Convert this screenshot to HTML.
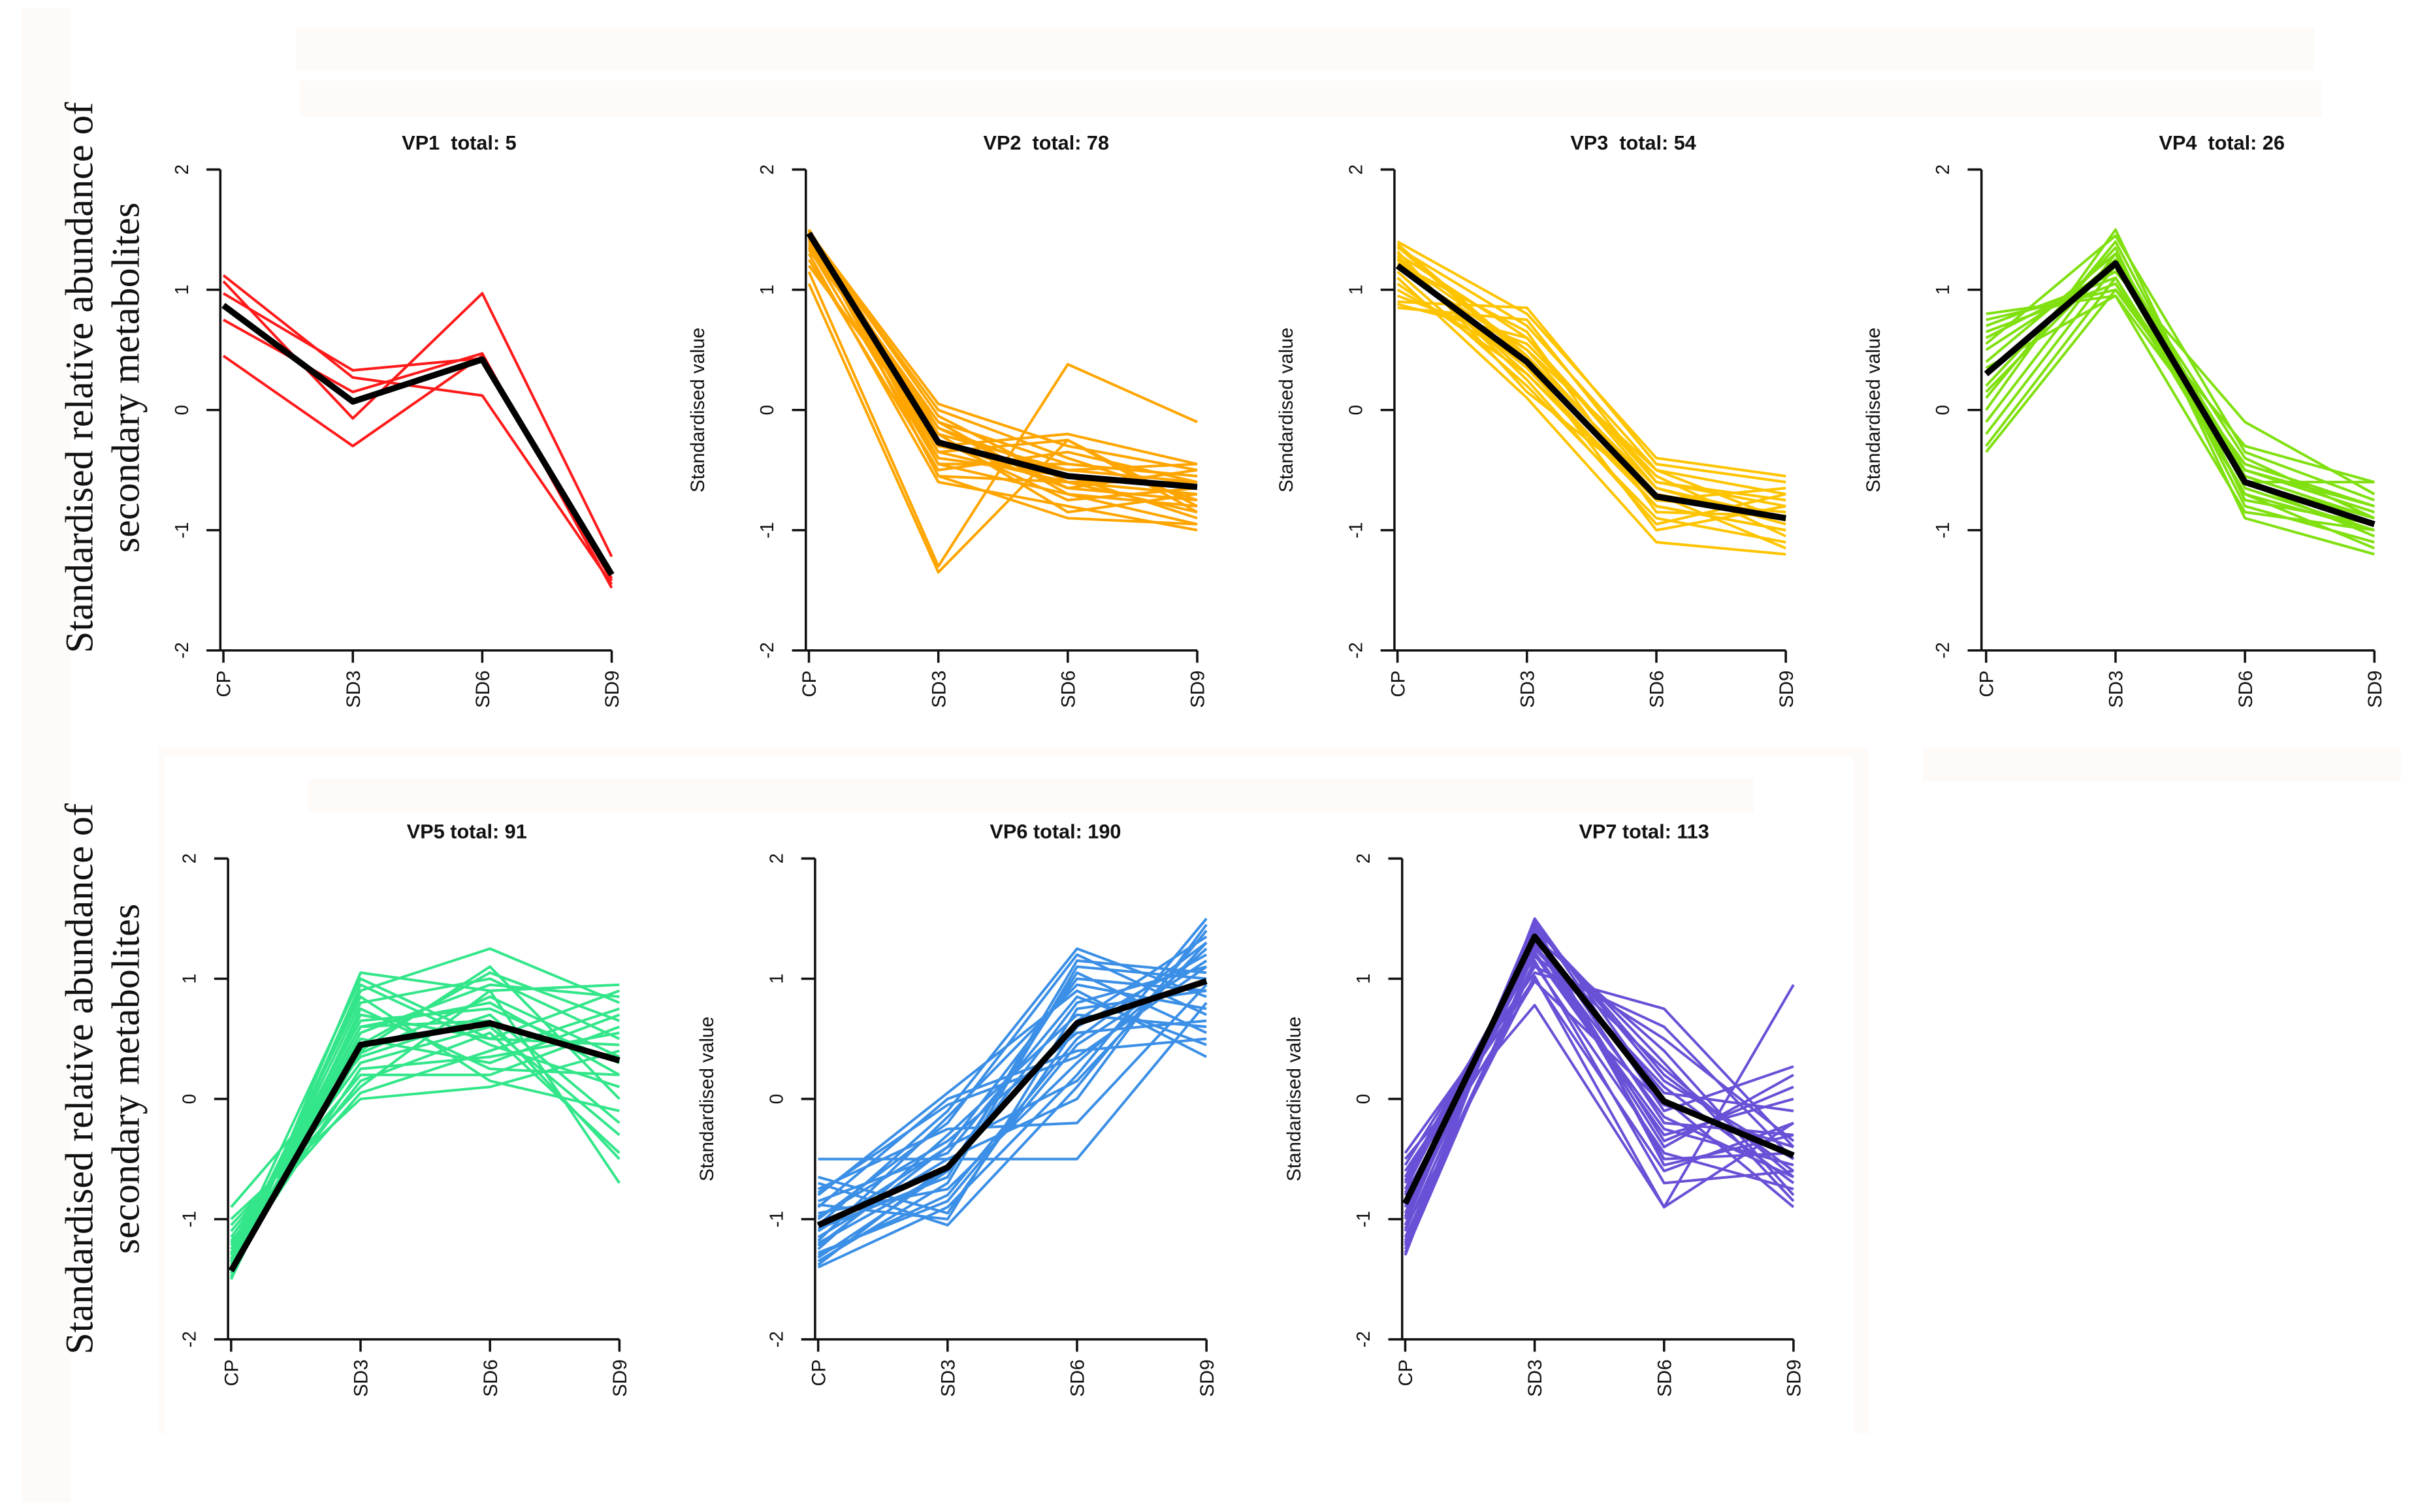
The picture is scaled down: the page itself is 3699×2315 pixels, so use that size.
<!DOCTYPE html>
<html><head><meta charset="utf-8"><style>
html,body{margin:0;padding:0;background:#fff;}
svg{display:block;}
</style></head><body>
<svg id="fig" xmlns="http://www.w3.org/2000/svg" width="3699" height="2315" viewBox="0 0 1568 981" preserveAspectRatio="none">
<rect x="0" y="0" width="1568" height="981" fill="#fff"/>
<g fill="#fefaf8">
<rect x="14" y="5" width="32" height="970"/>
<rect x="192" y="18" width="1310" height="28"/>
<rect x="195" y="52" width="1312" height="24"/>
<rect x="103" y="485" width="1110" height="6"/>
<rect x="200" y="505" width="938" height="22"/>
<rect x="1248" y="485" width="310" height="22"/>
<rect x="1203" y="490" width="10" height="440"/>
<rect x="103" y="490" width="4" height="440"/>
</g>
<g id="panels"></g>
<g font-family="'Liberation Serif',serif" font-size="25.5" fill="#111" text-anchor="middle">
<text transform="translate(60,245) rotate(-90)">Standardised relative abundance of</text>
<text transform="translate(90,245) rotate(-90)">secondary metabolites</text>
</g>
<g font-family="'Liberation Serif',serif" font-size="25.5" fill="#111" text-anchor="middle">
<text transform="translate(60,700) rotate(-90)">Standardised relative abundance of</text>
<text transform="translate(90,700) rotate(-90)">secondary metabolites</text>
</g>
</svg>
<script>
const categories = ["CP","SD3","SD6","SD9"];
const yTicks = [2,1,0,-1,-2];
const clusterNames = ["VP1","VP2","VP3","VP4","VP5","VP6","VP7"];
const clusterTotals = [5,78,54,26,91,190,113];
const clusterColors = ["#ff1a1a","#ffa500","#ffc400","#80e010","#33e68a","#3b8fe6","#6a50d6"];
const centroidVP1 = [0.87,0.07,0.42,-1.37];
const centroidVP2 = [1.47,-0.27,-0.55,-0.64];
const centroidVP3 = [1.2,0.4,-0.72,-0.9];
const centroidVP4 = [0.3,1.22,-0.6,-0.95];
const centroidVP5 = [-1.43,0.45,0.63,0.32];
const centroidVP6 = [-1.05,-0.57,0.63,0.98];
const centroidVP7 = [-0.87,1.35,-0.02,-0.47];
const membersVP1 = [[1.12,0.27,0.12,-1.45],[1.07,-0.07,0.97,-1.22],[0.97,0.33,0.43,-1.4],[0.75,0.15,0.47,-1.48],[0.45,-0.3,0.45,-1.42]];
const membersVP2 = [[1.5,-0.2,-0.5,-0.6],[1.45,-0.35,-0.6,-0.7],[1.4,-0.1,-0.45,-0.55],[1.48,0.05,-0.3,-0.5],[1.35,-0.45,-0.7,-0.8],[1.15,-1.3,0.38,-0.1],[1.05,-1.35,-0.25,-0.85],[1.5,-0.55,-0.9,-0.95],[1.42,-0.3,-0.2,-0.45],[1.3,-0.6,-0.8,-1.0],[1.46,0.0,-0.4,-0.75],[1.38,-0.15,-0.65,-0.5],[1.44,-0.4,-0.55,-0.9],[1.5,-0.25,-0.75,-0.65],[1.25,-0.5,-0.35,-0.6],[1.47,-0.05,-0.6,-0.85],[1.4,-0.3,-0.5,-0.45],[1.36,-0.2,-0.85,-0.7],[1.49,-0.45,-0.45,-0.55],[1.33,-0.1,-0.7,-0.95],[1.43,-0.35,-0.25,-0.8],[1.48,-0.55,-0.6,-0.6],[1.2,-0.25,-0.65,-0.75],[1.45,-0.15,-0.55,-0.65]];
const membersVP3 = [[1.4,0.8,-0.4,-0.55],[1.35,0.7,-0.5,-0.7],[1.3,0.6,-0.6,-0.8],[1.25,0.5,-0.7,-0.9],[1.2,0.35,-0.8,-1.0],[1.15,0.2,-0.9,-1.1],[0.9,0.85,-0.45,-0.6],[0.85,0.75,-0.6,-0.75],[1.1,0.1,-1.1,-1.2],[1.05,0.3,-0.75,-0.85],[1.38,0.45,-0.65,-0.95],[1.28,0.25,-0.95,-0.7],[0.95,0.55,-0.55,-1.05],[1.22,0.65,-0.85,-0.88],[1.32,0.15,-0.7,-1.15],[1.0,0.4,-1.0,-0.8],[1.18,0.5,-0.5,-0.92],[1.26,0.3,-0.8,-1.0],[0.88,0.6,-0.65,-0.9],[1.36,0.42,-0.75,-0.65]];
const membersVP4 = [[0.8,0.95,-0.5,-0.8],[0.75,1.0,-0.3,-0.6],[0.7,1.1,-0.6,-0.9],[0.6,1.15,-0.1,-0.7],[0.5,1.2,-0.7,-1.0],[0.4,1.3,-0.8,-1.1],[0.3,1.25,-0.5,-0.85],[0.2,1.35,-0.9,-1.2],[0.1,1.4,-0.65,-1.0],[0.0,1.5,-0.75,-0.95],[-0.1,1.3,-0.55,-0.9],[-0.2,1.2,-0.6,-1.05],[-0.3,1.1,-0.7,-1.15],[-0.35,1.0,-0.45,-0.8],[0.55,1.45,-0.35,-0.75],[0.35,0.95,-0.85,-1.0],[0.65,1.05,-0.6,-0.6],[0.15,1.25,-0.4,-0.9]];
const membersVP5 = [[-1.5,1.05,0.9,0.95],[-1.45,0.9,1.25,0.8],[-1.4,0.8,1.0,0.5],[-1.35,0.7,0.5,0.9],[-1.3,0.6,0.8,0.2],[-1.25,0.5,0.3,0.7],[-1.2,0.4,1.1,0.0],[-1.15,0.3,0.6,-0.3],[-1.1,0.2,0.2,0.6],[-1.05,0.1,0.9,-0.7],[-1.0,0.0,0.1,0.4],[-0.9,0.35,0.7,-0.2],[-1.48,0.95,0.45,0.1],[-1.42,0.55,0.95,0.85],[-1.38,0.25,0.35,0.55],[-1.33,0.85,0.15,-0.1],[-1.28,0.65,0.75,0.3],[-1.22,0.15,0.55,-0.45],[-1.45,0.45,1.05,0.65],[-1.5,0.75,0.25,0.2],[-1.18,0.05,0.4,0.75],[-1.4,0.6,0.65,-0.5],[-1.36,0.38,0.85,0.35],[-1.3,1.0,0.5,0.45]];
const membersVP6 = [[-1.4,-0.9,0.2,1.5],[-1.3,-0.8,0.5,1.3],[-1.2,-0.6,0.8,1.1],[-1.1,-0.4,1.0,0.9],[-1.0,-0.2,1.2,0.7],[-0.9,0.0,0.4,0.5],[-0.8,0.05,0.9,0.35],[-0.7,-1.05,0.1,1.4],[-0.65,-0.95,0.6,1.2],[-0.5,-0.5,-0.5,0.8],[-1.35,-0.7,1.1,1.0],[-1.25,-0.3,0.7,0.6],[-1.15,-0.5,0.0,1.45],[-1.05,-0.1,1.25,0.85],[-0.95,-0.75,0.3,1.25],[-0.85,-0.45,0.85,0.45],[-0.75,-0.25,-0.2,0.95],[-1.38,-0.55,0.65,1.35],[-1.28,-0.85,0.45,1.15],[-1.18,-0.15,0.95,0.75],[-1.08,-0.65,1.15,1.05],[-0.98,-0.35,0.55,0.65],[-0.88,-1.0,0.75,0.9],[-0.78,-0.05,0.35,1.1],[-1.22,-0.4,0.15,1.3],[-1.32,-0.6,1.05,0.55]];
const membersVP7 = [[-1.3,1.5,0.0,-0.9],[-1.25,1.45,0.2,-0.6],[-1.2,1.4,-0.2,-0.3],[-1.1,1.35,0.4,-0.8],[-1.0,1.3,-0.4,0.2],[-0.9,1.25,0.1,-0.7],[-0.8,1.2,-0.3,0.0],[-0.7,1.1,0.6,-0.5],[-0.6,1.0,-0.6,-0.2],[-0.5,0.78,-0.9,0.95],[-0.45,1.05,0.75,-0.4],[-1.15,1.15,-0.7,-0.6],[-1.05,1.48,-0.1,0.27],[-0.95,1.42,0.3,-0.85],[-0.85,1.38,-0.5,-0.45],[-0.75,1.32,0.05,-0.1],[-0.65,1.28,-0.15,-0.65],[-0.55,1.18,0.5,-0.35],[-1.28,1.22,-0.25,-0.55],[-1.18,1.12,-0.45,-0.75],[-1.08,1.02,-0.9,-0.2],[-0.98,1.44,0.15,-0.5],[-0.88,1.36,-0.35,0.1],[-0.78,0.98,-0.05,-0.4],[-0.68,1.26,0.25,-0.65],[-1.22,1.46,-0.55,-0.3]];
const centroids = [centroidVP1,centroidVP2,centroidVP3,centroidVP4,centroidVP5,centroidVP6,centroidVP7];
const members = [membersVP1,membersVP2,membersVP3,membersVP4,membersVP5,membersVP6,membersVP7];

// layout (not data)
const layout = [
 {ax:143,cp:145,y0:266,title:298,ylab:false},
 {ax:523,cp:525,y0:266,title:679,ylab:true},
 {ax:905,cp:907,y0:266,title:1060,ylab:true},
 {ax:1286,cp:1289,y0:266,title:1442,ylab:true},
 {ax:148,cp:150,y0:713,title:303,ylab:false},
 {ax:529,cp:531,y0:713,title:685,ylab:true},
 {ax:910,cp:912,y0:713,title:1067,ylab:true}
];
const STEP=84, UNIT=78;
const NS="http://www.w3.org/2000/svg";
const root=document.getElementById('panels');
function mk(tag,attrs,parent){const e=document.createElementNS(NS,tag);for(const k in attrs)e.setAttribute(k,attrs[k]);parent.appendChild(e);return e;}

clusterNames.forEach((nm,i)=>{
 const L=layout[i];
 const xs=j=>L.cp+j*STEP;
 const ys=v=>L.y0-v*UNIT;
 const g=mk('g',{},root);
 
 
 const t=mk('text',{x:L.title,y:ys(2)-13,'text-anchor':'middle','font-family':"'Liberation Sans',sans-serif",'font-size':13,'font-weight':'bold',fill:'#111'},g);
 t.textContent=nm+(i<4?'\u00a0\u00a0':' ')+'total: '+clusterTotals[i];
 
 
 if(L.ylab){
  const yl=mk('text',{transform:`translate(${L.ax-66},${L.y0}) rotate(-90)`,'text-anchor':'middle','font-family':"'Liberation Sans',sans-serif",'font-size':12.5,fill:'#111'},g);
  yl.textContent='Standardised value';
  
  
 }
 const lg=mk('g',{fill:'none',stroke:clusterColors[i],'stroke-width':1.7,'stroke-linejoin':'round'},g);
 
 
 members[i].forEach(s=>{
  const p=mk('polyline',{points:s.map((v,j)=>xs(j)+','+ys(v)).join(' ')},lg);
  
  
 });
 const c=mk('polyline',{points:centroids[i].map((v,j)=>xs(j)+','+ys(v)).join(' '),fill:'none',stroke:'#000','stroke-width':4,'stroke-linejoin':'round'},g);
 
 
 const ya=mk('g',{stroke:'#111','stroke-width':1.5},g);
 
 
 mk('line',{x1:L.ax,y1:ys(2),x2:L.ax,y2:ys(-2)},ya);
 yTicks.forEach(v=>{
  mk('line',{x1:L.ax-9,y1:ys(v),x2:L.ax,y2:ys(v)},ya);
  const tl=mk('text',{transform:`translate(${L.ax-21},${ys(v)}) rotate(-90)`,'text-anchor':'middle','font-family':"'Liberation Sans',sans-serif",'font-size':12,fill:'#111',stroke:'none'},ya);
  tl.textContent=String(v);
  
  
 });
 const xa=mk('g',{stroke:'#111','stroke-width':1.5},g);
 
 
 mk('line',{x1:L.ax,y1:ys(-2),x2:xs(3),y2:ys(-2)},xa);
 categories.forEach((cat,j)=>{
  mk('line',{x1:xs(j),y1:ys(-2),x2:xs(j),y2:ys(-2)+8},xa);
  const xl=mk('text',{transform:`translate(${xs(j)+4.5},${ys(-2)+13}) rotate(-90)`,'text-anchor':'end','font-family':"'Liberation Sans',sans-serif",'font-size':12.5,fill:'#111',stroke:'none'},xa);
  xl.textContent=cat;
  
  
 });
});
</script>
</body></html>
